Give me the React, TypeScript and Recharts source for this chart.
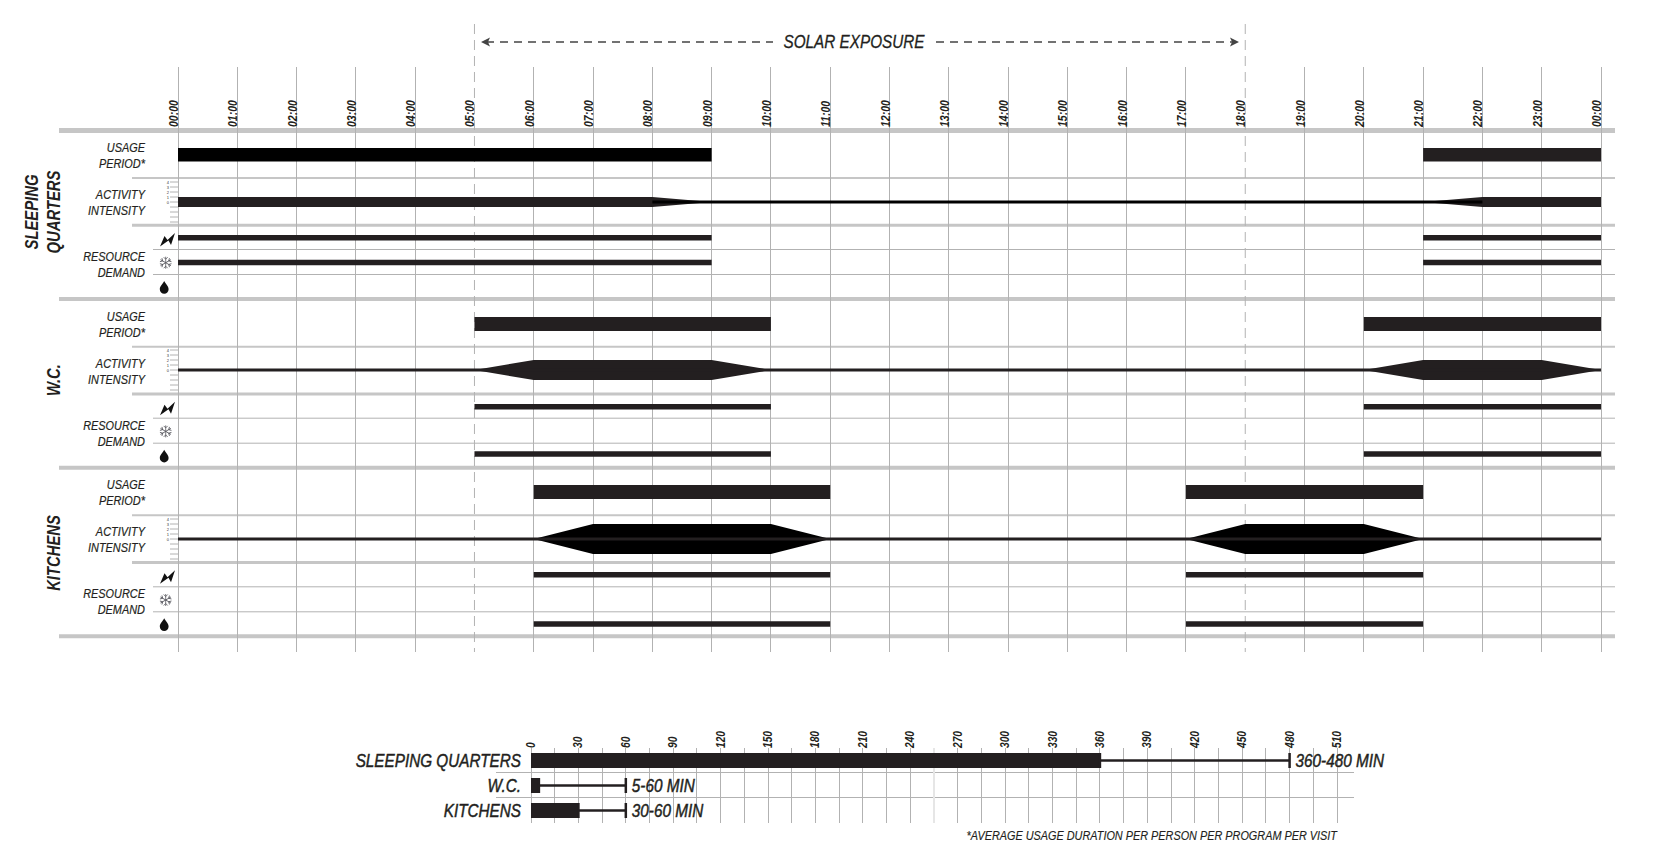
import React from 'react';
import { ComposedChart, Bar, Area, Line, XAxis, YAxis, CartesianGrid, ErrorBar, LabelList } from 'recharts';

// ---------- data ----------
const hourTicks = [0,1,2,3,4,5,6,7,8,9,10,11,12,13,14,15,16,17,18,19,20,21,22,23,24];
const hourLabels = ['00:00','01:00','02:00','03:00','04:00','05:00','06:00','07:00','08:00','09:00','10:00','11:00','12:00','13:00','14:00','15:00','16:00','17:00','18:00','19:00','20:00','21:00','22:00','23:00','00:00'];
const solarHours = [5, 18];

const sleepUsage = [[0,9],[21,24]];
const wcUsage = [[5,10],[20,24]];
const kitchenUsage = [[6,11],[17,21]];

const sleepIntensityHours = [0,8,9,21,22,24];
const sleepIntensity = [1,1,0,0,1,1];
const sleepBaselineFrom = 8;
const sleepBaselineTo = 22;
const wcIntensityHours = [0,5,6,9,10,20,21,23,24];
const wcIntensity = [0,0,2,2,0,0,2,2,0];
const kitchenIntensityHours = [0,6,7,10,11,17,18,20,21,24];
const kitchenIntensity = [0,0,3,3,0,0,3,3,0,0];

const sleepPower = [[0,9],[21,24]];
const sleepCooling = [[0,9],[21,24]];
const sleepWater: number[][] = [];
const wcPower = [[5,10],[20,24]];
const wcCooling: number[][] = [];
const wcWater = [[5,10],[20,24]];
const kitchenPower = [[6,11],[17,21]];
const kitchenCooling: number[][] = [];
const kitchenWater = [[6,11],[17,21]];

const durationNames = ['SLEEPING QUARTERS','W.C.','KITCHENS'];
const durationMin = [360,5,30];
const durationMax = [480,60,60];
const durationTicks = [0,15,30,45,60,75,90,105,120,135,150,165,180,195,210,225,240,255,270,285,300,315,330,345,360,375,390,405,420,435,450,465,480,495,510];
const fadedDurationTick = [255];

// ---------- style / layout ----------
const W = 1658, H = 865;
const FONT = '"Liberation Sans",sans-serif';
const DARK = '#231f20';
const GRID = '#b2b2b2';
const BAND = '#c6c6c6';
const X0 = 178, X1 = 1601;
const hourMargin = { left: X0, right: W - X1, top: 0, bottom: 0 };
const sections = [0, 168.7, 337.3];
const resourceTops = [225, 395, 562];
const resourceHeights = [74, 71, 74];

// Liberation Sans squeezed horizontally stands in for the narrow face of the reference
const Narrow = ({ x, y, sx = 0.82, rotate = 0, size = 13, weight = 400, anchor = 'start', fill = DARK, heavy = 0, spacing = 0, children }: any) => (
  <text transform={`translate(${x} ${y}) rotate(${rotate}) scale(${sx} 1)`} textAnchor={anchor} fontFamily={FONT} fontStyle="italic" fontSize={size} fontWeight={weight} fill={fill} stroke={heavy ? fill : 'none'} strokeWidth={heavy} letterSpacing={spacing}>{children}</text>
);

function toSegments(periods: number[][]) {
  const out: Record<string, number> = { s0: 0, s1: 0, s2: 0, s3: 0 };
  let cursor = 0;
  periods.forEach(([a, b], i) => {
    out['s' + i * 2] = a - cursor;
    out['s' + (i * 2 + 1)] = b - a;
    cursor = b;
  });
  return out;
}

function PeriodBars({ top, height, rows, fills, barSize }: { top: number; height: number; rows: { row: string; periods: number[][] }[]; fills: string[]; barSize: number }) {
  const data = rows.map(r => ({ row: r.row, ...toSegments(r.periods) }));
  return (
    <div style={{ position: 'absolute', left: 0, top }}>
      <ComposedChart width={W} height={height} data={data} layout="vertical" margin={hourMargin} barCategoryGap={0}>
        <XAxis type="number" domain={[0, 24]} hide />
        <YAxis type="category" dataKey="row" hide />
        <Bar dataKey="s0" stackId="t" fill="none" barSize={barSize} isAnimationActive={false} />
        <Bar dataKey="s1" stackId="t" fill={fills[0]} barSize={barSize} isAnimationActive={false} />
        <Bar dataKey="s2" stackId="t" fill="none" barSize={barSize} isAnimationActive={false} />
        <Bar dataKey="s3" stackId="t" fill={fills[1]} barSize={barSize} isAnimationActive={false} />
      </ComposedChart>
    </div>
  );
}

const intensityTick = ({ y, payload }: any) =>
  payload.value >= 0 ? (
    <text x={X0 - 9} y={y + 1.5} fontSize={4} fill="#333" textAnchor="end" fontFamily={FONT}>{payload.value}</text>
  ) : <g />;

function ActivityChart({ center, hours, values, fill, from, to }: { center: number; hours: number[]; values: number[]; fill: string; from?: number; to?: number }) {
  const data = hours.map((h, i) => ({
    h,
    band: [-values[i], values[i]],
    base: from === undefined || (h >= from && h <= (to as number)) ? 0 : null,
  }));
  return (
    <div style={{ position: 'absolute', left: 0, top: Math.round(center - 24) }}>
      <ComposedChart width={W} height={48} data={data} margin={{ left: X0 - 20, right: W - X1, top: 4, bottom: 4 }}>
        <XAxis type="number" dataKey="h" domain={[0, 24]} hide />
        <YAxis type="number" width={20} domain={[-4, 4]} ticks={[-4,-3,-2,-1,0,1,2,3,4]} interval={0} axisLine={false} tickSize={8} tickMargin={0} tickLine={{ stroke: GRID, strokeWidth: 1 }} tick={intensityTick} />
        <Area type="linear" dataKey="band" fill={fill} fillOpacity={1} stroke="none" dot={false} activeDot={false} isAnimationActive={false} />
        <Line type="linear" dataKey="base" stroke={from === undefined ? DARK : '#000'} strokeWidth={3} dot={false} activeDot={false} isAnimationActive={false} />
      </ComposedChart>
    </div>
  );
}

const hourTick = ({ x, payload }: any) => (
  <Narrow x={x} y={127} rotate={-90} size={13} weight={700} sx={0.81}>{hourLabels[hourTicks.indexOf(payload.value)]}</Narrow>
);
const noTick = () => <g />;

const durationXTick = ({ x, payload }: any) =>
  payload.value % 30 === 0 ? (
    <Narrow x={x + 4} y={748} rotate={-90} size={12} weight={700} sx={0.85}>{payload.value}</Narrow>
  ) : <g />;

const durationYTick = ({ y, payload }: any) => (
  <Narrow x={521} y={y + 6} anchor="end" size={18} sx={0.85} heavy={0.45}>{payload.value}</Narrow>
);

const rangeLabel = ({ x, y, width, height, index }: any) => {
  const pxPerMin = width / durationMin[index];
  return (
    <Narrow x={x + durationMax[index] * pxPerMin + 6} y={y + height / 2 + 6.5} size={18} sx={0.85} heavy={0.45}>
      {`${durationMin[index]}-${durationMax[index]} MIN`}
    </Narrow>
  );
};

const StackLabel = ({ x, y, lines }: { x: number; y: number; lines: string[] }) => (
  <g>
    {lines.map((l, i) => <Narrow key={i} x={x} y={y + i * 16} anchor="end" size={13} sx={0.84} heavy={0.2}>{l}</Narrow>)}
  </g>
);

const Title = ({ x, y, children }: any) => (
  <Narrow x={x} y={y} rotate={-90} anchor="middle" size={19} weight={700} sx={0.78}>{children}</Narrow>
);

const Bolt = ({ dy }: { dy: number }) => (
  <path transform={`translate(0 ${dy})`} d="M175 233 L171 245 L168.5 240.5 L160 246.5 L164.5 236 L167.5 240 Z" fill="#111" />
);
const Snow = ({ dy }: { dy: number }) => {
  const cx = 165.7, cy = 262.7 + dy, r = 6;
  const arms = [0, 60, 120, 180, 240, 300];
  return (
    <g stroke="#55555c" strokeWidth={0.8} fill="none">
      {arms.map(a => (
        <g key={a} transform={`rotate(${a} ${cx} ${cy})`}>
          <line x1={cx} y1={cy} x2={cx} y2={cy - r} />
          <path d={`M${cx - 2} ${cy - r + 0.5} L${cx} ${cy - r + 2.5} L${cx + 2} ${cy - r + 0.5}`} />
        </g>
      ))}
    </g>
  );
};
const Drop = ({ dy }: { dy: number }) => (
  <path transform={`translate(0 ${dy})`} d="M164.2 281 C165.5 284 168.6 286 168.6 289.3 A4.4 4.4 0 0 1 159.8 289.3 C159.8 286 163 284 164.2 281 Z" fill="#111" />
);

const Rule = ({ y, x = 132, w = 2, c = BAND }: { y: number; x?: number; w?: number; c?: string }) => (
  <line x1={x} x2={1615} y1={y} y2={y} stroke={c} strokeWidth={w} />
);

const usageRows = [sleepUsage, wcUsage, kitchenUsage];
const powerRows = [sleepPower, wcPower, kitchenPower];
const coolingRows = [sleepCooling, wcCooling, kitchenCooling];
const waterRows = [sleepWater, wcWater, kitchenWater];
const durationData = durationNames.map((name, i) => ({ name, min: durationMin[i], spread: [0, durationMax[i] - durationMin[i]] }));

export default function App() {
  return (
    <div style={{ position: 'absolute', left: 0, top: 0, width: W, height: H, background: '#fff', overflow: 'hidden' }}>
      <svg width={W} height={H} style={{ position: 'absolute', left: 0, top: 0 }}>
        <Rule y={130.4} x={59} w={5} />
        {sections.map((o, i) => (
          <g key={i}>
            <Rule y={178 + o} />
            <Rule y={225.3 + o} w={3} />
            <Rule y={249.5 + o} x={153} w={1} c={GRID} />
            <Rule y={274.5 + o} x={153} w={1} c={GRID} />
            <Rule y={299 + o} x={59} w={4} />
          </g>
        ))}
        <line x1={496} x2={1354} y1={772.5} y2={772.5} stroke={GRID} />
        <line x1={496} x2={1354} y1={797.5} y2={797.5} stroke={GRID} />

        <line x1={486} x2={773} y1={42} y2={42} stroke="#444" strokeWidth={1.6} strokeDasharray="8 6" />
        <line x1={936} x2={1234} y1={42} y2={42} stroke="#444" strokeWidth={1.6} strokeDasharray="8 6" />
        <path d="M481 42 L490 37.5 L488 42 L490 46.5 Z" fill="#444" />
        <path d="M1239 42 L1230 37.5 L1232 42 L1230 46.5 Z" fill="#444" />
        <Narrow x={854} y={48} anchor="middle" size={18} sx={0.85} heavy={0.3}>SOLAR EXPOSURE</Narrow>

        <Title x={38} y={212}>SLEEPING</Title>
        <Title x={60} y={212}>QUARTERS</Title>
        <Title x={60} y={380}>W.C.</Title>
        <Title x={60} y={553}>KITCHENS</Title>
        {sections.map((o, i) => (
          <g key={i}>
            <StackLabel x={145} y={152 + o} lines={['USAGE', 'PERIOD*']} />
            <StackLabel x={145} y={199 + o} lines={['ACTIVITY', 'INTENSITY']} />
            <StackLabel x={145} y={261 + o} lines={['RESOURCE', 'DEMAND']} />
            <Bolt dy={o} />
            <Snow dy={o} />
            <Drop dy={o} />
          </g>
        ))}
        <Narrow x={1337} y={840} anchor="end" size={12.5} sx={0.87} heavy={0.15}>*AVERAGE USAGE DURATION PER PERSON PER PROGRAM PER VISIT</Narrow>
      </svg>

      {/* dashed solar-exposure hours */}
      <div style={{ position: 'absolute', left: 0, top: 0 }}>
        <ComposedChart width={W} height={H} data={[{ h: 0 }, { h: 24 }]} margin={{ left: X0, right: W - X1, top: 23, bottom: H - 652 }}>
          <XAxis type="number" dataKey="h" domain={[0, 24]} ticks={hourTicks} interval={0} orientation="top" height={1} axisLine={false} tickLine={false} tick={noTick} />
          <YAxis hide />
          <CartesianGrid horizontal={false} stroke={GRID} strokeDasharray="10 6" verticalValues={solarHours} />
        </ComposedChart>
      </div>

      {/* hour axis and grid */}
      <div style={{ position: 'absolute', left: 0, top: 0 }}>
        <ComposedChart width={W} height={H} data={[{ h: 0 }, { h: 24 }]} margin={{ left: X0, right: W - X1, top: 66, bottom: H - 652 }}>
          <XAxis type="number" dataKey="h" domain={[0, 24]} ticks={hourTicks} interval={0} orientation="top" height={1} axisLine={false} tickLine={false} tick={hourTick} />
          <YAxis hide />
          <CartesianGrid horizontal={false} stroke={GRID} shapeRendering="crispEdges" verticalValues={hourTicks.filter(h => !solarHours.includes(h))} />
        </ComposedChart>
      </div>

      {sections.map((o, i) => (
        <React.Fragment key={i}>
          <PeriodBars top={Math.round(147 + o)} height={15} barSize={i === 0 ? 15 : 14} rows={[{ row: 'usage', periods: usageRows[i] }]} fills={i === 0 ? ['#000', DARK] : [DARK, DARK]} />
          <PeriodBars top={resourceTops[i]} height={resourceHeights[i]} barSize={5.5} rows={[
            { row: 'power', periods: powerRows[i] },
            { row: 'cooling', periods: coolingRows[i] },
            { row: 'water', periods: waterRows[i] },
          ]} fills={[DARK, DARK]} />
        </React.Fragment>
      ))}
      <ActivityChart center={202} hours={sleepIntensityHours} values={sleepIntensity} fill={DARK} from={sleepBaselineFrom} to={sleepBaselineTo} />
      <ActivityChart center={370} hours={wcIntensityHours} values={wcIntensity} fill={DARK} />
      <ActivityChart center={539} hours={kitchenIntensityHours} values={kitchenIntensity} fill="#000" />

      {/* duration chart */}
      <div style={{ position: 'absolute', left: 0, top: 0 }}>
        <ComposedChart width={W} height={H} data={durationData} layout="vertical" margin={{ left: 0, right: W - 1337, top: 747, bottom: H - 823 }} barCategoryGap={0}>
          <XAxis type="number" domain={[0, 510]} ticks={durationTicks} interval={0} orientation="top" height={1} axisLine={false} tickLine={false} tick={durationXTick} />
          <YAxis type="category" dataKey="name" width={531} axisLine={false} tickLine={false} tick={durationYTick} />
          <CartesianGrid horizontal={false} stroke="#e6e6e6" strokeWidth={2} verticalValues={fadedDurationTick} />
          <CartesianGrid horizontal={false} stroke={GRID} shapeRendering="crispEdges" verticalValues={durationTicks.filter(t => !fadedDurationTick.includes(t))} />
          <Bar dataKey="min" fill={DARK} barSize={15} isAnimationActive={false}>
            <ErrorBar dataKey="spread" direction="x" width={7.5} stroke={DARK} strokeWidth={2.5} isAnimationActive={false} />
            <LabelList dataKey="min" content={rangeLabel} />
          </Bar>
        </ComposedChart>
      </div>
    </div>
  );
}
